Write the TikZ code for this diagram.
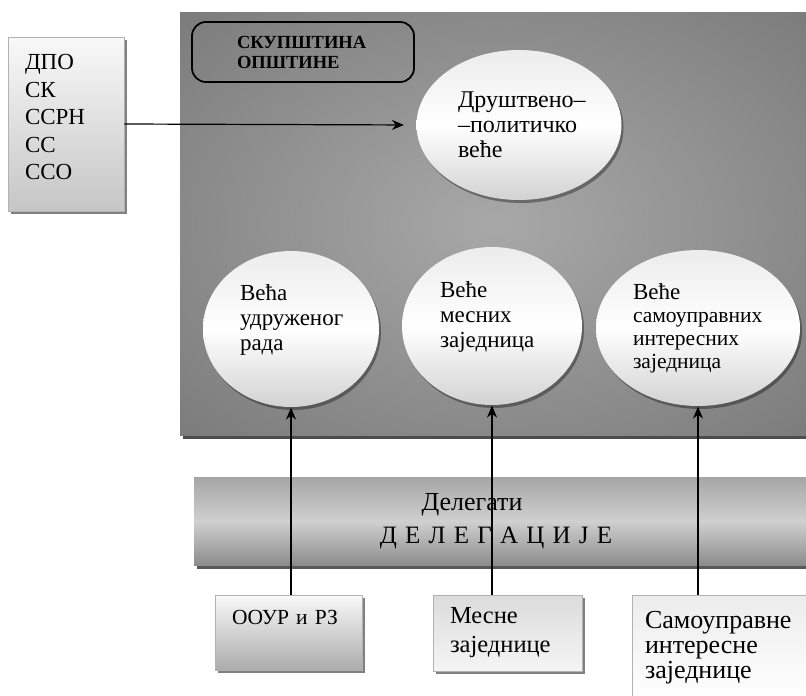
\documentclass[tikz,border=0pt]{standalone}
\usepackage{fontspec}
\setmainfont{Liberation Serif}
\usepackage{tikz}
\usetikzlibrary{arrows.meta,shapes.geometric,shadows}
\definecolor{bgdark}{RGB}{118,118,118}
\definecolor{bglight}{RGB}{168,168,168}
\definecolor{bandmid}{RGB}{208,208,208}
\definecolor{bandedge}{RGB}{165,165,165}
\pgfdeclareradialshading{glow}{\pgfpoint{0bp}{0bp}}{color(0bp)=(bglight); color(40bp)=(bgdark); color(72bp)=(bgdark)}

\begin{document}
\begin{tikzpicture}[x=1pt,y=-1pt,->,>={Stealth[length=12pt,width=10pt]},line width=1.2pt,font=\fontsize{23}{25}\selectfont]
 \tikzstyle{listbox}=[draw=gray!60,line width=.6pt,top color=gray!5,bottom color=gray!45,align=left,
   drop shadow={shadow xshift=3pt,shadow yshift=-3pt,fill=black!50,opacity=1}]
 \tikzstyle{vece}=[ellipse,inner sep=0pt,align=left,top color=gray!15,bottom color=gray!35,middle color=white,
   drop shadow={shadow xshift=2pt,shadow yshift=-3pt,fill=black,opacity=.35}]
 \tikzstyle{band}=[minimum width=618pt,minimum height=88pt,top color=bandedge,bottom color=bandedge!85!black,
   middle color=bandmid,align=center,font=\fontsize{26}{33}\selectfont,
   drop shadow={shadow xshift=3pt,shadow yshift=-4pt,fill=black!65,opacity=1}]
 \useasboundingbox (0,0) rectangle (806,696);

   % skupstina
   \path[shading=glow,drop shadow={shadow xshift=3pt,shadow yshift=-4pt,fill=black!70,opacity=1}] (180,12) rectangle (812,435);

   \node[listbox,minimum width=116pt,minimum height=174pt,text width=82pt,inner xsep=17pt,text depth=124pt,font=\fontsize{23}{27.5}\selectfont] (dpo) at (66,124) {ДПО\\СК\\ССРН\\СС\\ССО};
   \node[draw=black,line width=1.8pt,rounded corners=14pt,minimum height=60pt,text width=132pt,inner xsep=45pt,align=left,font=\bfseries\fontsize{18.5}{20}\selectfont] (naslov) at (303,52) {СКУПШТИНА\\ОПШТИНЕ};
   \node[vece,minimum width=205pt,minimum height=150pt,text width=122pt,font=\fontsize{24}{25}\selectfont] (dpv) at (519,125) {\mbox{Друштвено–}\\–политичко\\веће};

   % veca
   \node[vece,minimum width=176pt,minimum height=156pt,text width=102pt,text depth=73pt] (vur) at (291,329) {Већа\\удруженог\\рада};
   \node[vece,minimum width=180pt,minimum height=158pt,text width=104pt,text depth=73pt] (vmz) at (492,326) {Веће\\месних\\заједница};
   \node[vece,minimum width=204pt,minimum height=156pt,text width=130pt,font=\fontsize{21.5}{23}\selectfont] (vsiz) at (698,328) {{\fontsize{23}{23}\selectfont Веће}\\самоуправних\\интересних\\заједница};

   \node[band] (delegati) at (503,521) {\hspace*{-62pt}Делегати\\\hspace*{-14pt}{\fontsize{25}{33}\selectfont\addfontfeature{LetterSpace=8}Д Е Л Е Г А Ц И Ј Е}};

   % delegacije
   \node[listbox,top color=gray!5,bottom color=gray!65,minimum width=147pt,text width=113pt,inner xsep=17pt,inner ysep=8pt,text height=21pt,text depth=38pt,font=\fontsize{21.5}{25}\selectfont] (oour) at (288.5,632.5) {ООУР и РЗ};
   \node[listbox,top color=gray!28,bottom color=gray!8,minimum width=149pt,minimum height=76pt,text width=115pt,inner xsep=17pt,font=\fontsize{24.5}{29}\selectfont] (mz) at (507.5,633) {Месне\\заједнице};
   \node[listbox,top color=gray!15,bottom color=white,minimum width=180pt,minimum height=105pt,text width=154pt,inner xsep=13pt,font=\fontsize{26}{25}\selectfont] (siz) at (722,647.5) {Самоуправне\\интересне\\заједнице};

   \path[->]
   (dpo.east) edge [shorten >=12pt] (dpv.west)
   (vur.south |- oour.north) edge (vur.south)
   (vmz.south |- mz.north) edge (vmz.south)
   (vsiz.south |- siz.north) edge (vsiz.south);

\end{tikzpicture}
\end{document}
